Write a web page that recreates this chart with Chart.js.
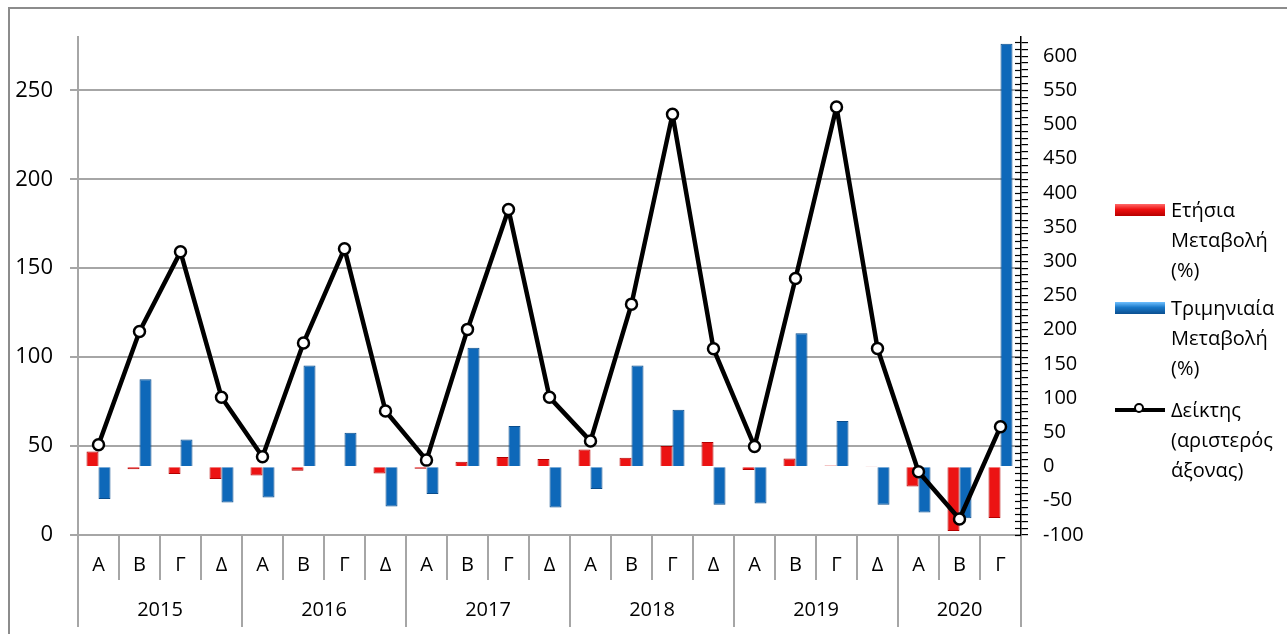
<!DOCTYPE html>
<html lang="el">
<head>
    <meta charset="UTF-8">
    <title>Δείκτης - Ετήσια και Τριμηνιαία Μεταβολή</title>
    <script src="https://cdn.jsdelivr.net/npm/chart.js"></script>
    <style>
        body { margin: 0; background: #fff; font-family: "Open Sans", sans-serif; }
        #wrap { position: relative; width: 1287px; height: 634px; overflow: hidden; }
        #frame { position: absolute; left: 8px; top: 7px; width: 1300px; height: 700px;
                 border-left: 2px solid #8c8c8c; border-top: 2px solid #8c8c8c; }
        #chart { position: absolute; left: 0; top: 0; }
        .item { position: absolute; left: 1115px; font-size: 20px; line-height: 30px; color: #000; }
        .item .txt { margin-left: 56px; white-space: nowrap; }
        .sw { position: absolute; left: 0; top: 9px; width: 50px; height: 12px; }
        .sw.red { background: linear-gradient(#ff6a6a, #ee1010 45%, #b80000); }
        .sw.blue { background: linear-gradient(#6fc0ff, #1a78c8 45%, #0a4f90); }
        .sw.line { top: 13px; height: 4px; background: #000; }
        .sw.line::after { content: ""; position: absolute; left: 19px; top: -5px; width: 10px; height: 10px;
                          border: 2.5px solid #000; border-radius: 50%; background: #fff; box-sizing: border-box; }
    </style>
</head>
<body>
<div id="wrap">
    <div id="frame"></div>
    <canvas id="chart" width="1287" height="634"></canvas>
    <div class="item" style="top:195px"><span class="sw red"></span><div class="txt">Ετήσια<br>Μεταβολή<br>(%)</div></div>
    <div class="item" style="top:293px"><span class="sw blue"></span><div class="txt">Τριμηνιαία<br>Μεταβολή<br>(%)</div></div>
    <div class="item" style="top:395px"><span class="sw line"></span><div class="txt">Δείκτης<br>(αριστερός<br>άξονας)</div></div>
</div>

<script>
    // quarters and years
    const quarterLabels = ['Α','Β','Γ','Δ', 'Α','Β','Γ','Δ', 'Α','Β','Γ','Δ', 'Α','Β','Γ','Δ', 'Α','Β','Γ','Δ', 'Α','Β','Γ'];
    const years = ['2015', '2016', '2017', '2018', '2019', '2020'];
    const quartersPerYear = [4, 4, 4, 4, 4, 3];

    // index (left axis)
    const indexValues = [50.7, 114.4, 159.2, 77.5, 44.0, 108.0, 161.0, 69.7, 42.1, 115.6, 183.0, 77.4,
                         52.8, 129.8, 236.5, 104.7, 49.8, 144.2, 240.6, 104.9, 35.6, 9.0, 60.9];
    // annual change % (right axis)
    const annualChange = [22, -4, -11, -18, -13, -6, 1, -10, -3, 7, 14, 11,
                          25, 13, 30, 36, -5, 12, 1.5, 0.5, -29, -94, -75];
    // quarterly change % (right axis)
    const quarterlyChange = [-47.5, 127.8, 39.6, -52.4, -45, 147.8, 49.4, -58.2, -40, 173.8, 59.2, -59.7,
                             -32.8, 147.8, 83.2, -55.8, -53.8, 194.8, 66.6, -55.8, -67, -75.4, 618];

    const leftTicks = [0, 50, 100, 150, 200, 250];
    const rightLabelStep = 50;
    const rightMinorStep = 10;

    // year axis: separators between years and label positions in the middle
    const yearBounds = [-0.5];
    const yearCenters = [];
    quartersPerYear.forEach(n => {
        const start = yearBounds[yearBounds.length - 1];
        yearCenters.push(start + n / 2);
        yearBounds.push(start + n);
    });
    const yearTicks = yearBounds.concat(yearCenters).sort((a, b) => a - b);

    const gridGrey = '#a6a6a6';
    Chart.defaults.font.family = "'Open Sans', sans-serif";
    Chart.defaults.color = '#000';

    // short ticks on the inner side of the right axis too
    const crossTicks = {
        id: 'crossTicks',
        afterDraw(chart) {
            const s = chart.scales.y1;
            const ctx = chart.ctx;
            ctx.save();
            ctx.strokeStyle = '#000';
            ctx.lineWidth = 1.2;
            s.ticks.forEach(t => {
                const y = Math.round(s.getPixelForValue(t.value)) + 0.5;
                ctx.beginPath();
                ctx.moveTo(s.left - 6, y);
                ctx.lineTo(s.left, y);
                ctx.stroke();
            });
            ctx.restore();
        }
    };

    new Chart(document.getElementById('chart'), {
        data: {
            labels: quarterLabels,
            datasets: [
                {
                    type: 'line',
                    label: 'Δείκτης (αριστερός άξονας)',
                    data: indexValues,
                    yAxisID: 'y',
                    borderColor: '#000',
                    borderWidth: 4.5,
                    borderJoinStyle: 'round',
                    borderCapStyle: 'round',
                    pointRadius: 5.5,
                    pointBackgroundColor: '#fff',
                    pointBorderColor: '#000',
                    pointBorderWidth: 2.5,
                    tension: 0,
                    order: 0
                },
                {
                    type: 'bar',
                    label: 'Ετήσια Μεταβολή (%)',
                    data: annualChange,
                    yAxisID: 'y1',
                    backgroundColor: '#ec1313',
                    borderColor: '#b50000',
                    borderWidth: 1,
                    categoryPercentage: 0.585,
                    barPercentage: 1,
                    order: 1
                },
                {
                    type: 'bar',
                    label: 'Τριμηνιαία Μεταβολή (%)',
                    data: quarterlyChange,
                    yAxisID: 'y1',
                    backgroundColor: '#0e68b9',
                    borderColor: '#0a4d8c',
                    borderWidth: 1,
                    categoryPercentage: 0.585,
                    barPercentage: 1,
                    order: 1
                }
            ]
        },
        options: {
            responsive: false,
            animation: false,
            layout: { padding: { top: 37, left: 0, right: 0, bottom: 0 } },
            plugins: {
                legend: { display: false },
                tooltip: { enabled: false }
            },
            scales: {
                x: {
                    type: 'category',
                    position: 'bottom',
                    offset: true,
                    weight: 0,
                    grid: { offset: true, drawOnChartArea: false, tickLength: 45, color: gridGrey, lineWidth: 2 },
                    border: { color: gridGrey, width: 2 },
                    ticks: { font: { size: 20 }, padding: -27, autoSkip: false, maxRotation: 0 },
                    afterFit: s => { s.height = 45; }
                },
                xYear: {
                    type: 'linear',
                    position: 'bottom',
                    weight: 1,
                    min: -0.5,
                    max: 22.5,
                    afterBuildTicks: s => { s.ticks = yearTicks.map(v => ({ value: v })); },
                    grid: {
                        drawOnChartArea: false,
                        tickLength: 47,
                        lineWidth: 2,
                        color: c => (c.tick && yearBounds.includes(c.tick.value)) ? gridGrey : 'rgba(0,0,0,0)'
                    },
                    border: { display: false },
                    ticks: {
                        font: { size: 20 },
                        padding: -29,
                        autoSkip: false,
                        maxRotation: 0,
                        callback: v => {
                            const i = yearCenters.indexOf(v);
                            return i >= 0 ? years[i] : '';
                        }
                    },
                    afterFit: s => { s.height = 54; }
                },
                y: {
                    position: 'left',
                    min: 0,
                    max: 280,
                    afterBuildTicks: s => { s.ticks = leftTicks.map(v => ({ value: v })); },
                    grid: { color: gridGrey, lineWidth: 2, tickLength: 8 },
                    border: { color: gridGrey, width: 2 },
                    ticks: { font: { size: 22 }, padding: 17 },
                    afterFit: s => { s.width = 78; }
                },
                y1: {
                    position: 'right',
                    min: -100,
                    max: 628,
                    afterBuildTicks: s => {
                        const t = [];
                        for (let v = -100; v <= 620; v += rightMinorStep) t.push({ value: v });
                        s.ticks = t;
                    },
                    grid: { drawOnChartArea: false, tickLength: 7, color: '#000', lineWidth: 1.2 },
                    border: { color: '#000', width: 1.5 },
                    ticks: {
                        font: { size: 20 },
                        padding: 15,
                        autoSkip: false,
                        callback: v => (v % rightLabelStep === 0 ? v : '')
                    },
                    afterFit: s => { s.width = 266; }
                }
            }
        },
        plugins: [crossTicks]
    });
</script>
</body>
</html>
